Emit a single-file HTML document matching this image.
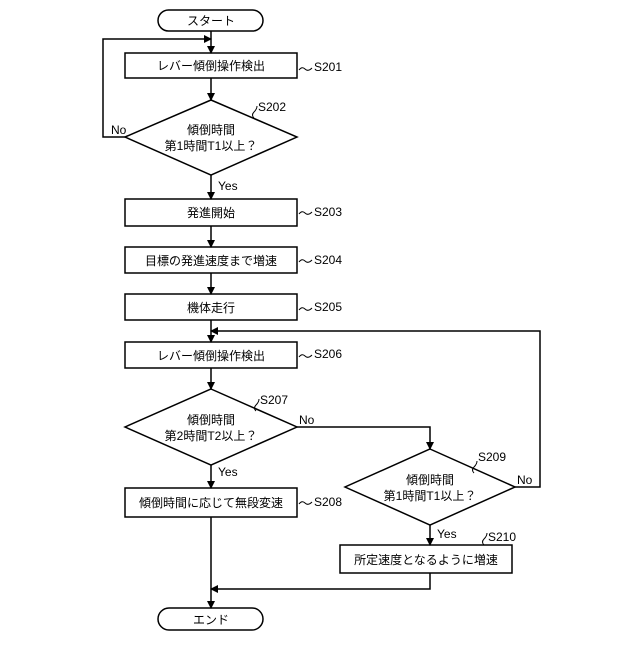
<!DOCTYPE html>
<html><head><meta charset="utf-8"><style>
body{margin:0;background:#fff}
text{font-family:"Liberation Sans","Noto Sans CJK JP",sans-serif;font-size:12px;fill:#000}
</style></head><body>
<svg width="640" height="640" viewBox="0 0 640 640" xmlns="http://www.w3.org/2000/svg">
<defs><marker id="a" markerWidth="8" markerHeight="8" refX="7" refY="4" orient="auto" markerUnits="userSpaceOnUse"><path d="M0,0 L8,4 L0,8 z" fill="#000"/></marker></defs>
<g fill="none" stroke="#000" stroke-width="1.5">
<rect x="158" y="10" width="105" height="21" rx="10.5"/>
<rect x="125" y="53" width="172" height="25"/>
<polygon points="211,100 297,137 211,175 125,137"/>
<rect x="125" y="199" width="172" height="27"/>
<rect x="125" y="247" width="172" height="26"/>
<rect x="125" y="294" width="172" height="26"/>
<rect x="125" y="342" width="172" height="26"/>
<polygon points="211,389 297,427 211,465 125,427"/>
<rect x="125" y="488" width="172" height="29"/>
<polygon points="430,449 515,487 430,525 345,487"/>
<rect x="340" y="545" width="172" height="28"/>
<rect x="158" y="608" width="105" height="22" rx="11"/>
<g marker-end="url(#a)">
<line x1="211" y1="31" x2="211" y2="53"/>
<polyline points="125,137 103,137 103,39 211,39"/>
<line x1="211" y1="78" x2="211" y2="100"/>
<line x1="211" y1="175" x2="211" y2="199"/>
<line x1="211" y1="226" x2="211" y2="247"/>
<line x1="211" y1="273" x2="211" y2="294"/>
<line x1="211" y1="320" x2="211" y2="342"/>
<polyline points="515,487 540,487 540,331 211,331"/>
<line x1="211" y1="368" x2="211" y2="389"/>
<line x1="211" y1="465" x2="211" y2="488"/>
<polyline points="297,427 430,427 430,449"/>
<line x1="430" y1="525" x2="430" y2="545"/>
<polyline points="430,573 430,589 211,589"/>
<line x1="211" y1="517" x2="211" y2="608"/>
</g>
<g stroke-width="1">
<path d="M299,70 q3,-4 6,-1 t7,-1"/>
<path d="M299,214 q3,-4 6,-1 t7,-1"/>
<path d="M299,262 q3,-4 6,-1 t7,-1"/>
<path d="M299,310 q3,-4 6,-1 t7,-1"/>
<path d="M299,357 q3,-4 6,-1 t7,-1"/>
<path d="M299,504 q3,-4 6,-1 t7,-1"/>
<path d="M254,118 q-3,-3 0,-6 t3,-6"/>
<path d="M256,411 q-3,-3 0,-6 t3,-6"/>
<path d="M474,473 q-3,-3 0,-6 t3,-6"/>
<path d="M484,545 q-3,-3 0,-6 t3,-6"/>
</g>
</g>
<g text-anchor="middle">
<text x="211" y="25">スタート</text>
<text x="211" y="70">レバー傾倒操作検出</text>
<text x="211" y="134">傾倒時間</text>
<text x="211" y="150">第1時間T1以上？</text>
<text x="211" y="217">発進開始</text>
<text x="211" y="265">目標の発進速度まで増速</text>
<text x="211" y="312">機体走行</text>
<text x="211" y="360">レバー傾倒操作検出</text>
<text x="211" y="424">傾倒時間</text>
<text x="211" y="440">第2時間T2以上？</text>
<text x="211" y="507">傾倒時間に応じて無段変速</text>
<text x="430" y="484">傾倒時間</text>
<text x="430" y="500">第1時間T1以上？</text>
<text x="426" y="564">所定速度となるように増速</text>
<text x="211" y="624">エンド</text>
</g>
<text x="314" y="71">S201</text>
<text x="258" y="111">S202</text>
<text x="314" y="216">S203</text>
<text x="314" y="264">S204</text>
<text x="314" y="311">S205</text>
<text x="314" y="358">S206</text>
<text x="260" y="404">S207</text>
<text x="314" y="506">S208</text>
<text x="478" y="461">S209</text>
<text x="488" y="541">S210</text>
<text x="111" y="134">No</text>
<text x="218" y="190">Yes</text>
<text x="299" y="424">No</text>
<text x="218" y="476">Yes</text>
<text x="517" y="484">No</text>
<text x="437" y="538">Yes</text>
</svg>
</body></html>
